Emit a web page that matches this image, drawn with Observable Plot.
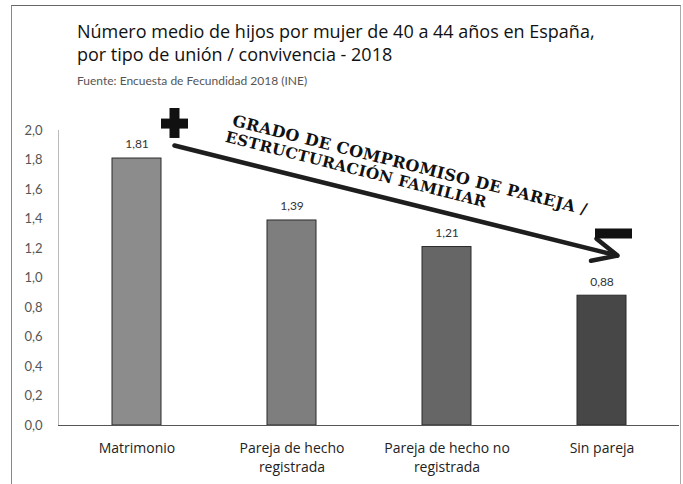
<!DOCTYPE html>
<html>
<head>
<meta charset="utf-8">
<script src="https://cdn.jsdelivr.net/npm/d3@7"></script>
<script src="https://cdn.jsdelivr.net/npm/@observablehq/plot@0.6"></script>
<style>
  html, body { margin: 0; padding: 0; background: #fff; }
  body { width: 683px; height: 484px; position: relative; overflow: hidden; font-family: "Open Sans", Lato, sans-serif; }
  #border { position: absolute; left: 11px; top: 5px; width: 668px; height: 520px; border-left: 1px solid #888; border-top: 1px solid #666; border-right: 1px solid #aaa; }
  #title { position: absolute; left: 77px; top: 20px; font-size: 18px; line-height: 23px; color: #111; }
  #subtitle { position: absolute; left: 77px; top: 73px; font-family: Lato, sans-serif; font-size: 12px; color: #555; }
  #chart { position: absolute; left: 0; top: 95px; }
</style>
</head>
<body>
<div id="border"></div>
<div id="title">Número medio de hijos por mujer de 40 a 44 años en España,<br>por tipo de unión / convivencia - 2018</div>
<div id="subtitle">Fuente: Encuesta de Fecundidad 2018 (INE)</div>
<div id="chart"></div>
<script>
// Data
const categories = ["Matrimonio", "Pareja de hecho\nregistrada", "Pareja de hecho no\nregistrada", "Sin pareja"];
const values = [1.81, 1.39, 1.21, 0.88];
const yTicks = [0, 0.2, 0.4, 0.6, 0.8, 1.0, 1.2, 1.4, 1.6, 1.8, 2.0];
const annotationLines = ["GRADO DE COMPROMISO DE PAREJA /", "ESTRUCTURACIÓN FAMILIAR"];

// Styles
const barColors = ["#8c8c8c", "#7e7e7e", "#666666", "#474747"];

const data = categories.map((c, i) => ({cat: c, value: values[i], color: barColors[i]}));
const fmt = v => d3.format(".1f")(v).replace(".", ",");
const fmt2 = v => d3.format(".2f")(v).replace(".", ",");

const annoStyle = {textAnchor: "start", lineAnchor: "bottom", fontWeight: "bold",
  fontFamily: "DejaVu Serif, serif", fill: "#111", rotate: 14.2};

const chart = Plot.plot({
  width: 683,
  height: 389,
  marginLeft: 58,
  marginRight: 4,
  marginTop: 35,
  marginBottom: 59,
  style: {fontFamily: "Lato, 'Open Sans', sans-serif", background: "transparent"},
  x: {domain: categories, paddingInner: 0.684, paddingOuter: 0.342, label: null},
  y: {domain: [0, 2], label: null},
  color: {type: "identity"},
  marks: [
    Plot.frame({anchor: "left", stroke: "#bbb", strokeDasharray: "1,1"}),
    Plot.axisY({ticks: yTicks, tickFormat: fmt, tickSize: 0, tickPadding: 16, fontSize: 13, color: "#555"}),
    Plot.axisX({tickSize: 0, tickPadding: 15, fontSize: 14, lineHeight: 1.3, color: "#222", fontFamily: "'Open Sans', sans-serif"}),
    Plot.barY(data, {x: "cat", y: "value", fill: "color", stroke: "#2a2a2a", strokeWidth: 1}),
    Plot.ruleY([0], {stroke: "#555", strokeWidth: 1.2}),
    Plot.text(data, {x: "cat", y: "value", text: d => fmt2(d.value), dy: -14, fontSize: 12, fill: "#333"}),
    // annotation arrow
    Plot.arrow([{x1: categories[0], y1: 1.961, x2: categories[3], y2: 1.178}], {
      x1: "x1", y1: "y1", x2: "x2", y2: "y2",
      stroke: "#1e1e1e", strokeWidth: 4.5, headLength: 9, headAngle: 50,
      insetStart: 38.6, insetEnd: -16
    }),
    // plus sign
    Plot.tickY([2.047], {x: () => categories[0], y: d => d, stroke: "#111", strokeWidth: 10, insetLeft: 49, insetRight: -27}),
    Plot.ruleX([categories[0]], {x: d => d, y1: 1.946, y2: 2.149, dx: 37.5, stroke: "#111", strokeWidth: 10}),
    // minus sign
    Plot.tickY([1.302], {x: () => categories[3], y: d => d, stroke: "#111", strokeWidth: 10, insetLeft: 18, insetRight: -6}),
    // rotated annotation text
    Plot.text([annotationLines[0]], {x: () => categories[0], y: () => 2.034, text: d => d, dx: 94.5, fontSize: 16, ...annoStyle}),
    Plot.text([annotationLines[1]], {x: () => categories[0], y: () => 1.925, text: d => d, dx: 87.5, fontSize: 15.3, ...annoStyle})
  ]
});
d3.select(chart).selectAll("text")
  .filter(function() { return annotationLines.includes(this.textContent); })
  .style("letter-spacing", "0.3px");
document.getElementById("chart").appendChild(chart);
</script>
</body>
</html>
